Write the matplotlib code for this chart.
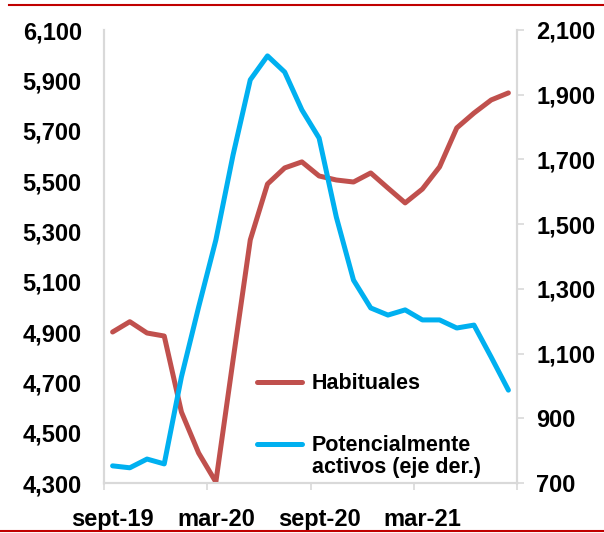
import matplotlib.pyplot as plt
from matplotlib.lines import Line2D

plt.rcParams['font.family'] = ['Liberation Sans', 'DejaVu Sans']
plt.rcParams['font.weight'] = 'bold'

# monthly data, sept-19 .. aug-21
months = ['sept-19', 'oct-19', 'nov-19', 'dic-19', 'ene-20', 'feb-20',
          'mar-20', 'abr-20', 'may-20', 'jun-20', 'jul-20', 'ago-20',
          'sept-20', 'oct-20', 'nov-20', 'dic-20', 'ene-21', 'feb-21',
          'mar-21', 'abr-21', 'may-21', 'jun-21', 'jul-21', 'ago-21']
habituales = [4900, 4941, 4896, 4884, 4582, 4419, 4304, 4789, 5266, 5488,
              5552, 5576, 5520, 5504, 5496, 5532, 5472, 5413, 5468, 5556,
              5711, 5770, 5822, 5850]
potenciales = [753, 747, 774, 759, 1028, 1244, 1451, 1714, 1946, 2020,
               1970, 1853, 1766, 1522, 1327, 1241, 1219, 1235, 1204, 1204,
               1179, 1188, 1089, 987]

red = '#C0504D'
blue = '#00B0F0'
grey = '#D9D9D9'
fs = 17
lfs = 15.5

fig = plt.figure(figsize=(6.04, 5.33), dpi=100)
ax = fig.add_axes([104/604, 1-483/533, (517-104)/604, (483-30)/533])
ax2 = ax.twinx()

x = range(len(months))
ax.plot(x, habituales, color=red, lw=3.6, solid_capstyle='round', solid_joinstyle='round', zorder=3)
ax2.plot(x, potenciales, color=blue, lw=3.6, solid_capstyle='round', solid_joinstyle='round', zorder=3)

ax.set_xlim(-0.5, len(months) - 0.5)
ax.set_ylim(4300, 6100)
ax2.set_ylim(700, 2100)
ax.set_yticks(range(4300, 6101, 200))
ax2.set_yticks(range(700, 2101, 200))
ax.set_yticklabels([f'{v:,}' for v in range(4300, 6101, 200)])
ax2.set_yticklabels([f'{v:,}' for v in range(700, 2101, 200)])

# ticks between categories, labels every 6 months
ax.set_xticks([i - 0.5 for i in range(0, len(months) + 1, 6)])
ax.set_xticklabels([])
ax.set_xticks(range(0, len(months), 6), minor=True)
ax.set_xticklabels(months[::6], minor=True)
ax.tick_params(axis='x', which='major', length=5, color=grey, width=1.2)
ax.tick_params(axis='x', which='minor', length=0, labelsize=fs, pad=18)
ax.tick_params(axis='y', length=0, labelsize=fs, pad=16)
ax2.tick_params(axis='y', length=5, color=grey, width=1.2, labelsize=fs, pad=9)

for a in (ax, ax2):
    for s in a.spines.values():
        s.set_color(grey)
        s.set_linewidth(1.5)
    a.spines['top'].set_visible(False)

handles = [Line2D([], [], color=red, lw=3.6, solid_capstyle='round'),
           Line2D([], [], color=blue, lw=3.6, solid_capstyle='round')]
ax.legend(handles, ['Habituales', 'Potencialmente'],
          loc='upper left', bbox_to_anchor=(0.323, 0.285), frameon=False,
          fontsize=lfs, handlelength=2.1, handletextpad=0.46, labelspacing=1.9)
ax.text(0.503, 0.035, 'activos (eje der.)', transform=ax.transAxes,
        fontsize=lfs, va='center', ha='left')

# red rules at top and bottom
fig.add_artist(Line2D([9/604, 1], [1-5/533, 1-5/533], color='#C00000', lw=1.5))
fig.add_artist(Line2D([0, 1], [1-531/533, 1-531/533], color='#C00000', lw=1.5))

fig.savefig('out.png', dpi=100)
